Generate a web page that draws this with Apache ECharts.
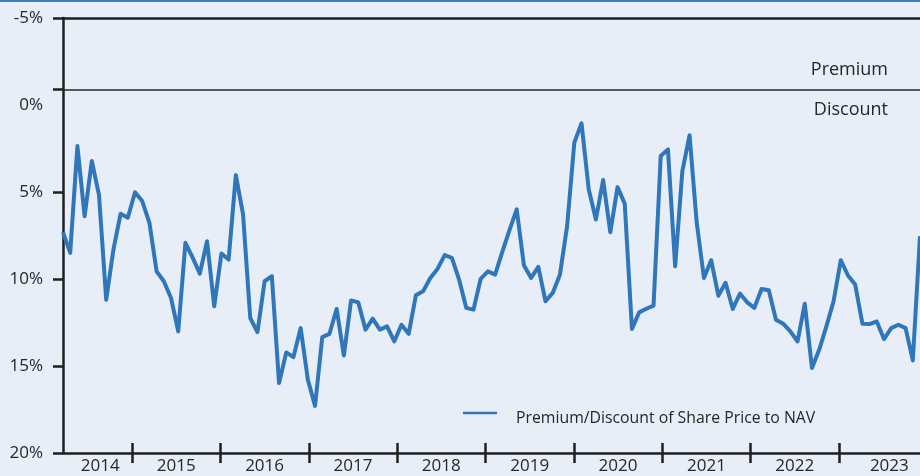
<!DOCTYPE html>
<html>
<head>
<meta charset="utf-8">
<script src="https://cdn.jsdelivr.net/npm/echarts@6/dist/echarts.min.js"></script>
<style>
html,body{margin:0;padding:0;background:#e8eef8;}
#chart{width:920px;height:476px;}
</style>
</head>
<body>
<div id="chart"></div>
<script>
// Premium(-)/Discount(+) of share price to NAV, %, 120 observations
var discount = [
  7.31, 8.50, 2.36, 6.39, 3.22, 5.18, 11.19, 8.31, 6.25, 6.48,
  5.01, 5.52, 6.77, 9.56, 10.13, 11.09, 13.01, 7.92, 8.77, 9.69,
  7.83, 11.57, 8.54, 8.88, 4.03, 6.29, 12.24, 13.05, 10.13, 9.84,
  15.98, 14.22, 14.49, 12.82, 15.79, 17.29, 13.34, 13.15, 11.72, 14.40,
  11.23, 11.34, 12.91, 12.28, 12.91, 12.72, 13.59, 12.63, 13.15, 10.94,
  10.71, 9.94, 9.42, 8.63, 8.78, 10.03, 11.66, 11.76, 9.99, 9.56,
  9.75, 8.44, 7.19, 6.00, 9.21, 9.94, 9.30, 11.28, 10.80, 9.75,
  6.96, 2.16, 1.05, 4.85, 6.58, 4.31, 7.31, 4.72, 5.67, 12.87,
  11.92, 11.71, 11.53, 2.93, 2.55, 9.27, 3.80, 1.74, 6.77, 9.94,
  8.92, 10.96, 10.22, 11.72, 10.84, 11.34, 11.66, 10.57, 10.65, 12.34,
  12.57, 13.01, 13.59, 11.42, 15.12, 14.07, 12.72, 11.28, 8.92, 9.80,
  10.32, 12.57, 12.59, 12.44, 13.45, 12.82, 12.63, 12.82, 14.68, 7.54
];
var categories = discount.map(function (_, i) { return 'P' + (i + 1); });
var yearTicks = [2015, 2016, 2017, 2018, 2019, 2020, 2021, 2022, 2023];
var yearLabelPos = [2014.64, 2015.5, 2016.5, 2017.5, 2018.5, 2019.5, 2020.5, 2021.5, 2022.5, 2023.57];
var yTickValues = [-5, -0.9, 5, 10, 15, 20];
var premiumDiscountLine = -0.9;
var seriesName = 'Premium/Discount of Share Price to NAV';

var FONT = 'Open Sans';
var TXT = '#262626';
var AX = '#1f1f1f';
var yearMin = 2014.219, yearMax = 2023.917;

var chart = echarts.init(document.getElementById('chart'), null, {renderer: 'canvas'});
chart.setOption({
  backgroundColor: '#e8eef8',
  animation: false,
  grid: {left: 63, right: 0, top: 18, bottom: 23, containLabel: false},
  legend: {
    show: true,
    left: 463, top: 404,
    itemWidth: 34, itemHeight: 18,
    data: [{name: seriesName, icon: 'rect', itemStyle: {color: 'transparent'}}],
    textStyle: {fontFamily: FONT, fontSize: 15.8, color: TXT, padding: [0, 0, 0, 9]}
  },
  xAxis: [
    {type: 'category', data: categories, boundaryGap: false, position: 'bottom',
     axisLine: {show: true, onZero: false, lineStyle: {color: AX, width: 2.5}},
     axisTick: {show: false}, axisLabel: {show: false}, splitLine: {show: false}},
    {type: 'value', min: yearMin, max: yearMax, position: 'bottom',
     axisLine: {show: false, onZero: false},
     axisTick: {show: true, inside: true, length: 10, customValues: yearTicks, lineStyle: {color: AX, width: 2.5}},
     axisLabel: {show: true, customValues: yearLabelPos, margin: 5,
       fontFamily: FONT, fontSize: 17, color: TXT,
       formatter: function (v) { return String(Math.floor(v)); }},
     splitLine: {show: false}},
    {type: 'value', min: yearMin, max: yearMax, position: 'bottom',
     axisLine: {show: false, onZero: false},
     axisTick: {show: true, inside: false, length: 10, customValues: yearTicks, lineStyle: {color: AX, width: 2.5}},
     axisLabel: {show: false}, splitLine: {show: false}},
    {type: 'value', min: yearMin, max: yearMax, position: 'top',
     axisLine: {show: true, onZero: false, lineStyle: {color: AX, width: 2.5}},
     axisTick: {show: false}, axisLabel: {show: false}, splitLine: {show: false}}
  ],
  yAxis: [{
    type: 'value', inverse: true, min: -5, max: 20, interval: 5,
    axisLine: {show: true, onZero: false, lineStyle: {color: AX, width: 2.5}},
    axisTick: {show: true, inside: false, length: 10, customValues: yTickValues, lineStyle: {color: AX, width: 2.5}},
    axisLabel: {margin: 20, fontFamily: FONT, fontSize: 17, color: TXT,
      formatter: function (v) { return v + '%'; }},
    splitLine: {show: false}
  }],
  series: [{
    name: seriesName,
    type: 'line',
    xAxisIndex: 0, yAxisIndex: 0,
    data: discount,
    symbol: 'none',
    lineStyle: {color: '#2f76bb', width: 4, join: 'round'},
    itemStyle: {color: '#2f76bb'},
    markLine: {
      silent: true, symbol: 'none', animation: false,
      label: {show: false},
      lineStyle: {color: '#262626', width: 1.5, type: 'solid'},
      data: [{yAxis: premiumDiscountLine}]
    }
  }],
  graphic: [
    {type: 'rect', left: 0, top: 0, shape: {width: 920, height: 2}, style: {fill: '#3b7cc2'}},
    {type: 'line', shape: {x1: 463, y1: 413, x2: 497, y2: 413}, style: {stroke: '#2f76bb', lineWidth: 2.5}},
    {type: 'text', right: 32, top: 61, style: {text: 'Premium', fontFamily: FONT, fontSize: 18, fill: TXT}},
    {type: 'text', right: 32, top: 101, style: {text: 'Discount', fontFamily: FONT, fontSize: 18, fill: TXT}}
  ]
});
</script>
</body>
</html>
